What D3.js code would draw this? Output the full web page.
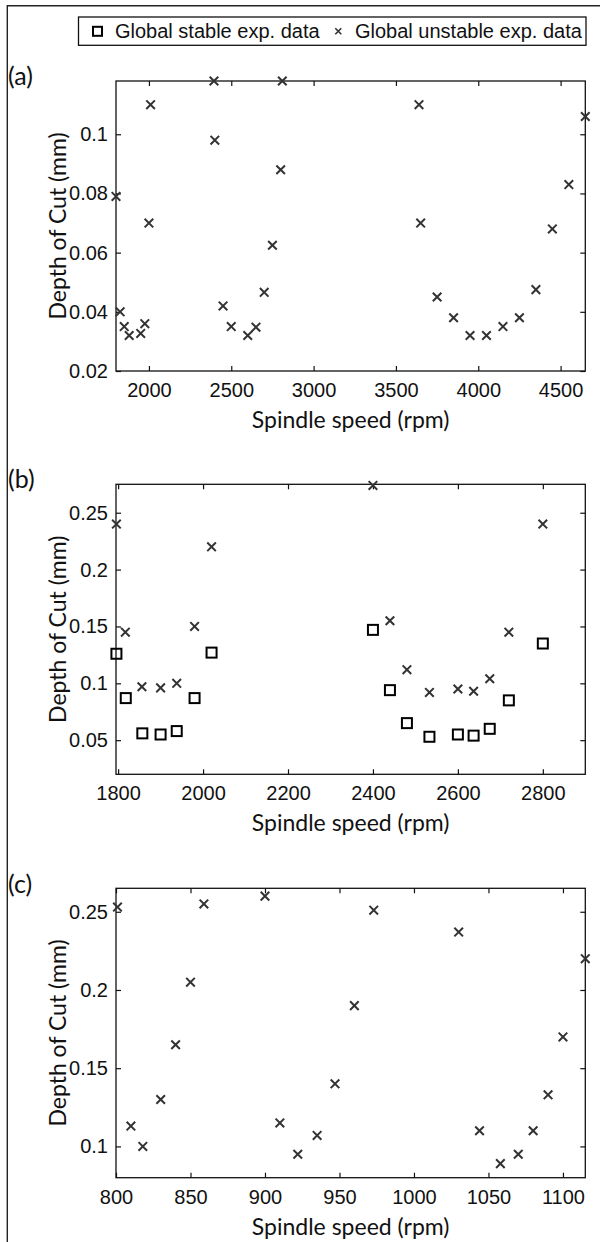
<!DOCTYPE html>
<html>
<head>
  <meta charset="utf-8">
  <script src="https://d3js.org/d3.v7.min.js"></script>
  <style>
    body { margin: 0; background: #fff; }
    svg { display: block; }
    .tick line { stroke: #111; stroke-width: 1.2px; }
    .title { font-family: Lato, "Open Sans", sans-serif; font-size: 23px; fill: #111; }
    .panel-label { font-family: Lato, "Open Sans", sans-serif; font-size: 25px; fill: #111; }
    .legend-text { font-family: "Liberation Sans", Arial, sans-serif; font-size: 20px; fill: #111; }
  </style>
</head>
<body>
<script>
  // panel (a): unstable only
  const speedA = [1800, 1825, 1850, 1880, 1950, 1975, 2000, 2010, 2395, 2400, 2450, 2500, 2600, 2650, 2700, 2750, 2800, 2810,
    3640, 3650, 3750, 3850, 3950, 4050, 4150, 4250, 4350, 4450, 4550, 4650];
  const depthA = [0.079, 0.040, 0.035, 0.032, 0.0327, 0.036, 0.070, 0.110, 0.118, 0.098, 0.042, 0.035, 0.032, 0.0348, 0.0466, 0.0625, 0.088, 0.118,
    0.110, 0.070, 0.045, 0.038, 0.032, 0.032, 0.035, 0.038, 0.0475, 0.068, 0.083, 0.106];

  // panel (b)
  const speedBUnstable = [1796, 1817, 1856, 1900, 1938, 1980, 2020, 2400, 2440, 2480, 2533, 2600, 2637, 2675, 2720, 2800];
  const depthBUnstable = [0.240, 0.145, 0.097, 0.096, 0.100, 0.150, 0.220, 0.274, 0.155, 0.112, 0.092, 0.095, 0.093, 0.104, 0.145, 0.240];
  const speedBStable = [1796, 1818, 1857, 1900, 1938, 1980, 2020, 2400, 2440, 2480, 2533, 2600, 2637, 2675, 2720, 2800];
  const depthBStable = [0.126, 0.087, 0.056, 0.055, 0.058, 0.087, 0.127, 0.147, 0.094, 0.065, 0.053, 0.055, 0.054, 0.060, 0.085, 0.135];

  // panel (c): unstable only
  const speedC = [801, 810, 818, 830, 840, 850, 859, 900, 910, 922, 935, 947, 960, 973, 1030, 1044, 1058, 1070, 1080, 1090, 1100, 1115];
  const depthC = [0.253, 0.113, 0.100, 0.130, 0.165, 0.205, 0.255, 0.260, 0.115, 0.095, 0.107, 0.140, 0.190, 0.251, 0.237, 0.110, 0.089, 0.095, 0.110, 0.133, 0.170, 0.220];

  // ticks
  const xTicksA = [2000, 2500, 3000, 3500, 4000, 4500];
  const yTicksA = [0.02, 0.04, 0.06, 0.08, 0.1];
  const xTicksB = [1800, 2000, 2200, 2400, 2600, 2800];
  const yTicksB = [0.05, 0.1, 0.15, 0.2, 0.25];
  const xTicksC = [800, 850, 900, 950, 1000, 1050, 1100];
  const yTicksC = [0.1, 0.15, 0.2, 0.25];

  const legendLabels = ["Global stable exp. data", "Global unstable exp. data"];

  const width = 600, height = 1242;
  const plotLeft = 116, plotRight = 585.3;
  const crossColor = "#333";
  const tickFont = "'Liberation Sans', Arial, sans-serif";

  const svg = d3.select("body").append("svg")
    .attr("width", width)
    .attr("height", height);

  // outer frame (top + left only)
  svg.append("path")
    .attr("d", `M7.3,${height} L7.3,5.7 L${width},5.7`)
    .attr("fill", "none")
    .attr("stroke", "#222")
    .attr("stroke-width", 1.4);

  const fmt = d => String(+d.toFixed(3));

  function crossPath(x, y, r) {
    return `M${x - r},${y - r}L${x + r},${y + r}M${x - r},${y + r}L${x + r},${y - r}`;
  }

  const panels = [
    { label: "(a)", top: 81, bottom: 371, labelY: 85, xDomain: [1800, 4650], yDomain: [0.02, 0.118],
      xTicks: xTicksA, yTicks: yTicksA, unstable: [speedA, depthA], stable: null },
    { label: "(b)", top: 484.3, bottom: 774.3, labelY: 488, xDomain: [1795, 2900], yDomain: [0.02, 0.275],
      xTicks: xTicksB, yTicks: yTicksB, unstable: [speedBUnstable, depthBUnstable], stable: [speedBStable, depthBStable] },
    { label: "(c)", top: 888.3, bottom: 1177.7, labelY: 893, xDomain: [800, 1115], yDomain: [0.08, 0.265],
      xTicks: xTicksC, yTicks: yTicksC, unstable: [speedC, depthC], stable: null }
  ];

  panels.forEach(p => {
    const x = d3.scaleLinear().domain(p.xDomain).range([plotLeft, plotRight]);
    const y = d3.scaleLinear().domain(p.yDomain).range([p.bottom, p.top]);
    const g = svg.append("g");

    // axes with inward ticks
    g.append("g")
      .attr("transform", `translate(0,${p.bottom})`)
      .call(d3.axisBottom(x).tickValues(p.xTicks).tickFormat(fmt).tickSizeInner(-5).tickSizeOuter(0).tickPadding(12))
      .call(a => a.select(".domain").remove());
    g.append("g")
      .attr("transform", `translate(0,${p.top})`)
      .call(d3.axisTop(x).tickValues(p.xTicks).tickFormat("").tickSizeInner(-5).tickSizeOuter(0))
      .call(a => a.select(".domain").remove());
    g.append("g")
      .attr("transform", `translate(${plotLeft},0)`)
      .call(d3.axisLeft(y).tickValues(p.yTicks).tickFormat(fmt).tickSizeInner(-5).tickSizeOuter(0).tickPadding(8))
      .call(a => a.select(".domain").remove());
    g.append("g")
      .attr("transform", `translate(${plotRight},0)`)
      .call(d3.axisRight(y).tickValues(p.yTicks).tickFormat("").tickSizeInner(-5).tickSizeOuter(0))
      .call(a => a.select(".domain").remove());

    g.selectAll(".tick text")
      .attr("fill", "#111")
      .attr("font-family", tickFont)
      .attr("font-size", 20);

    // box
    g.append("rect")
      .attr("x", plotLeft)
      .attr("y", p.top)
      .attr("width", plotRight - plotLeft)
      .attr("height", p.bottom - p.top)
      .attr("fill", "none")
      .attr("stroke", "#111")
      .attr("stroke-width", 1.3);

    // stable squares
    if (p.stable) {
      const pts = p.stable[0].map((s, i) => [s, p.stable[1][i]]);
      g.selectAll(".sq").data(pts).enter().append("rect")
        .attr("x", d => x(d[0]) - 5)
        .attr("y", d => y(d[1]) - 5)
        .attr("width", 10)
        .attr("height", 10)
        .attr("fill", "none")
        .attr("stroke", "#000")
        .attr("stroke-width", 2);
    }

    // unstable crosses
    const upts = p.unstable[0].map((s, i) => [s, p.unstable[1][i]]);
    g.selectAll(".cross").data(upts).enter().append("path")
      .attr("d", d => crossPath(x(d[0]), y(d[1]), 4.3))
      .attr("stroke", crossColor)
      .attr("stroke-width", 2)
      .attr("fill", "none");

    // titles
    g.append("text")
      .attr("class", "title")
      .attr("x", (plotLeft + plotRight) / 2)
      .attr("y", p.bottom + 49)
      .attr("dy", "0.35em")
      .attr("text-anchor", "middle")
      .text("Spindle speed (rpm)");
    g.append("text")
      .attr("class", "title")
      .attr("transform", `translate(57.5,${(p.top + p.bottom) / 2}) rotate(-90)`)
      .attr("dy", "0.35em")
      .attr("text-anchor", "middle")
      .text("Depth of Cut (mm)");
    g.append("text")
      .attr("class", "panel-label")
      .attr("x", 8)
      .attr("y", p.labelY)
      .text(p.label);
  });

  // legend
  const legend = svg.append("g");
  legend.append("rect")
    .attr("x", 78.5).attr("y", 17)
    .attr("width", 507.5).attr("height", 28.3)
    .attr("fill", "#fff")
    .attr("stroke", "#111")
    .attr("stroke-width", 1.3);
  legend.append("rect")
    .attr("x", 93).attr("y", 26.8)
    .attr("width", 9).attr("height", 9)
    .attr("fill", "none").attr("stroke", "#000").attr("stroke-width", 2);
  legend.append("text")
    .attr("class", "legend-text")
    .attr("x", 115).attr("y", 31.3).attr("dy", "0.35em")
    .text(legendLabels[0]);
  legend.append("path")
    .attr("d", crossPath(338.3, 31.3, 3))
    .attr("stroke", crossColor).attr("stroke-width", 1.6);
  legend.append("text")
    .attr("class", "legend-text")
    .attr("x", 355).attr("y", 31.3).attr("dy", "0.35em")
    .text(legendLabels[1]);
</script>
</body>
</html>
